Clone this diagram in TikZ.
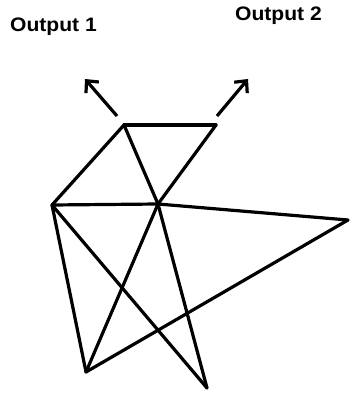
\documentclass[tikz,border=0pt]{standalone}
\usepackage{fontspec}
\setmainfont{Liberation Sans}
\usetikzlibrary{arrows.meta}
\begin{document}
\begin{tikzpicture}[x=1pt,y=-1pt,
  edge/.style={line width=3.2pt,line cap=round},
  outarrow/.style={line width=3.2pt,-{Straight Barb[length=9pt,width=17pt,line width=3.2pt]}},
  lbl/.style={font=\bfseries\fontsize{19.5}{22}\selectfont,inner sep=0pt,xscale=1.08}]
\useasboundingbox (0,0) rectangle (350,393);
\fill[white] (0,0) rectangle (350,393);
\coordinate (A) at (124,125);
\coordinate (B) at (216,125);
\coordinate (C) at (52,205);
\coordinate (D) at (158,204);
\coordinate (E) at (348,220);
\coordinate (F) at (86,372);
\coordinate (G) at (207,388);
\coordinate (t1) at (117,116);
\coordinate (h1) at (85,79);
\coordinate (t2) at (217,116);
\coordinate (h2) at (248,79);
\node[lbl,anchor=base] (o1) at (53.5,32) {Output 1};
\node[lbl,anchor=base] (o2) at (278.5,21) {Output 2};
\draw[outarrow] (t1) -- (h1);
\draw[outarrow] (t2) -- (h2);
\draw[edge] (A) -- (B);
\draw[edge] (A) -- (C);
\draw[edge] (A) -- (D);
\draw[edge] (B) -- (D);
\draw[edge] (C) -- (D);
\draw[edge] (D) -- (E);
\draw[edge] (C) -- (F);
\draw[edge] (C) -- (G);
\draw[edge] (D) -- (F);
\draw[edge] (F) -- (E);
\draw[edge] (D) -- (G);
\end{tikzpicture}
\end{document}
